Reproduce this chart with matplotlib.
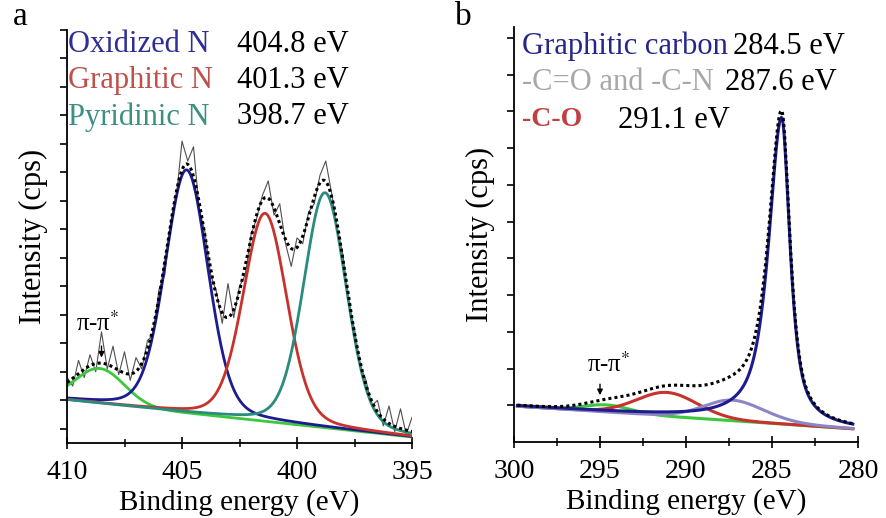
'''
XPS N1s (a) e C1s (b): componenti del fit, fondo lineare, inviluppo e dati grezzi
'''

import numpy as np
import matplotlib
matplotlib.use('Agg')
import matplotlib.pyplot as plt

plt.rcParams['font.family'] = ['Liberation Serif', 'DejaVu Serif']
plt.rcParams['mathtext.fontset'] = 'stix'

# --- pannello a: N1s ---
# componenti: centro (eV), altezza, semi-larghezza
n_names = ['Oxidized N', 'Graphitic N', 'Pyridinic N']
n_energies = ['404.8 eV', '401.3 eV', '398.7 eV']
n_colors = ['#1c1c8e', '#c8322c', '#2a8c7c']
n_label_colors = ['#2e2e96', '#c0504a', '#3a9082']
n_centers = [404.8, 401.39, 398.78]
n_heights = [8.53, 7.3, 8.25]
n_widths = [1.1, 1.12, 1.1]
n_pipi = [408.57, 1.23, 1.25]          # centro, altezza, larghezza shake-up
n_bg = [1.51, 0.21]                      # fondo lineare a 410 e 395 eV
n_range = [410, 395]

# dati grezzi letti ogni 0.25 eV da 410 a 395
n_raw = [2.3, 2.0, 2.9, 2.3, 3.1, 2.5, 3.9, 2.6, 3.4, 2.4,
         3.2, 2.2, 3.0, 2.6, 3.6, 3.8, 5.4, 5.9, 7.7, 8.6,
         10.6, 9.9, 10.4, 8.2, 7.4, 5.9, 5.3, 4.2, 5.6, 4.4,
         5.5, 5.9, 7.3, 7.9, 8.7, 9.2, 8.0, 8.4, 7.0, 6.2,
         7.2, 7.0, 8.1, 8.4, 9.4, 9.9, 8.8, 7.5, 6.6, 4.9,
         4.0, 2.7, 2.2, 1.3, 1.5, 0.6, 1.3, 0.4, 1.2, 0.3, 0.9]

# --- pannello b: C1s ---
c_names = ['Graphitic carbon', '-C=O and -C-N', '-C-O']
c_energies = ['284.5 eV', '287.6 eV', '291.1 eV']
c_colors = ['#1c1c90', '#8c84c4', '#c8322c']
c_label_colors = ['#26268a', '#a8a8a8', '#c04040']
c_centers = [284.44, 287.3, 291.1]
c_heights = [8.35, 0.56, 0.65]
c_wleft = [0.9, 2.0, 2.1]
c_wright = [0.58, 2.2, 2.1]
c_eta = [0.8, 0.2, 0.1]
c_pipi = [294.6, 0.2, 1.6]
c_bg = [0.98, 0.35]                      # fondo lineare a 300 e 280 eV
c_range = [299.8, 280.3]

green = '#3cc83c'


def peak(E, center, height, wl, wr, eta):
    # pseudo-Voigt asimmetrico (energie alte a sinistra nel grafico)
    w = np.where(E > center, wl, wr)
    r = (E - center) / w
    return height * ((1 - eta) * np.exp(-np.log(2) * r**2) + eta / (1 + r**2))


fig = plt.figure(figsize=(8.86, 5.18), dpi=100)
ax_a = fig.add_axes([67/886, 75/518, 345/886, 413/518])
ax_b = fig.add_axes([514/886, 76/518, 344/886, 415/518])

# pannello a
E = np.linspace(n_range[0], n_range[1], 400)
bg = np.polyval(np.polyfit(n_range, n_bg, 1), E)
comps = [peak(E, c, h, w, w, 0.2) for c, h, w in zip(n_centers, n_heights, n_widths)]
pipi = peak(E, n_pipi[0], n_pipi[1], n_pipi[2], n_pipi[2], 0.0)
env = bg + pipi + sum(comps)

E_raw = np.linspace(410, 395, len(n_raw))
ax_a.plot(E_raw, n_raw, color='#505050', lw=0.8)
ax_a.plot(E, bg + pipi, color=green, lw=2)
for comp, col in zip(comps, n_colors):
    ax_a.plot(E, bg + comp, color=col, lw=2)
ax_a.plot(E, env, color='black', lw=2.2, ls=(0, (1, 1)))

ax_a.set_xlim(410, 395)
ax_a.set_ylim(0, 14.5)
ax_a.set_xticks([410, 405, 400, 395])
ax_a.set_xticks(np.arange(395, 410, 2.5), minor=True)
ax_a.set_yticks(np.arange(0.5, 14.6, 1))
ax_a.text(408.65, 4.2, 'π-π$^{*}$', fontsize=18, ha='center', va='center')
ax_a.annotate('', xy=(408.5, 2.9), xytext=(408.5, 3.5),
              arrowprops=dict(arrowstyle='-|>', color='black', lw=1, mutation_scale=8))

# pannello b
Eb = np.linspace(c_range[0], c_range[1], 400)
bgb = np.polyval(np.polyfit([300, 280], c_bg, 1), Eb)
comps_b = [peak(Eb, c, h, wl, wr, eta) for c, h, wl, wr, eta
           in zip(c_centers, c_heights, c_wleft, c_wright, c_eta)]
pipi_b = peak(Eb, c_pipi[0], c_pipi[1], c_pipi[2], c_pipi[2], 0.0)
env_b = bgb + pipi_b + sum(comps_b)

ax_b.plot(Eb, bgb + pipi_b, color=green, lw=2.2)
for comp, col in zip(comps_b[::-1], c_colors[::-1]):
    ax_b.plot(Eb, bgb + comp, color=col, lw=2.2)
ax_b.plot(Eb, env_b, color='black', lw=2.2, ls=(0, (1, 1)))

ax_b.set_xlim(300, 280)
ax_b.set_ylim(0, 11.3)
ax_b.set_xticks([300, 295, 290, 285, 280])
ax_b.set_xticks(np.arange(280, 300, 2.5), minor=True)
ax_b.set_yticks(np.arange(1, 11.1, 1))
ax_b.text(294.5, 2.12, 'π-π$^{*}$', fontsize=18, ha='center', va='center')
ax_b.annotate('', xy=(295.0, 1.2), xytext=(295.0, 1.65),
              arrowprops=dict(arrowstyle='-|>', color='black', lw=1, mutation_scale=8))

for ax, h in ((ax_a, 413), (ax_b, 415)):
    ax.spines['top'].set_visible(False)
    ax.spines['right'].set_visible(False)
    ax.spines['left'].set_linewidth(1.3)
    ax.spines['bottom'].set_linewidth(1.3)
    ax.set_yticklabels([])
    ax.tick_params(axis='y', direction='out', length=5, width=1.2)
    ax.tick_params(axis='x', which='major', direction='inout', length=9, width=1.2,
                   labelsize=20, pad=8)
    ax.tick_params(axis='x', which='minor', direction='inout', length=6, width=1.1)
    ax.set_xlabel('Binding energy (eV)', fontsize=21)
    ax.xaxis.set_label_coords(0.5, -46 / h)
    ax.set_ylabel('Intensity (cps)', fontsize=22, labelpad=5)

# etichette delle componenti (coordinate figura)
W, H = 886, 518
for i in range(3):
    y = 1 - (44 + 36.5 * i) / H
    fig.text(68 / W, y, n_names[i], color=n_label_colors[i], fontsize=22, va='center')
    fig.text(237 / W, y, n_energies[i], color='black', fontsize=22, va='center')

c_xval = [733, 725, 618]
for i in range(3):
    y = 1 - (46 + 37 * i) / H
    fig.text(522 / W, y, c_names[i], color=c_label_colors[i],
             fontsize=20 if i == 2 else 22, va='center',
             fontweight='bold' if i == 2 else 'normal')
    fig.text(c_xval[i] / W, y, c_energies[i], color='black', fontsize=22, va='center')

fig.text(20 / W, 1 - 17 / H, 'a', fontsize=24, ha='center', va='center')
fig.text(463 / W, 1 - 17 / H, 'b', fontsize=24, ha='center', va='center')

fig.savefig('out.png', dpi=100)
